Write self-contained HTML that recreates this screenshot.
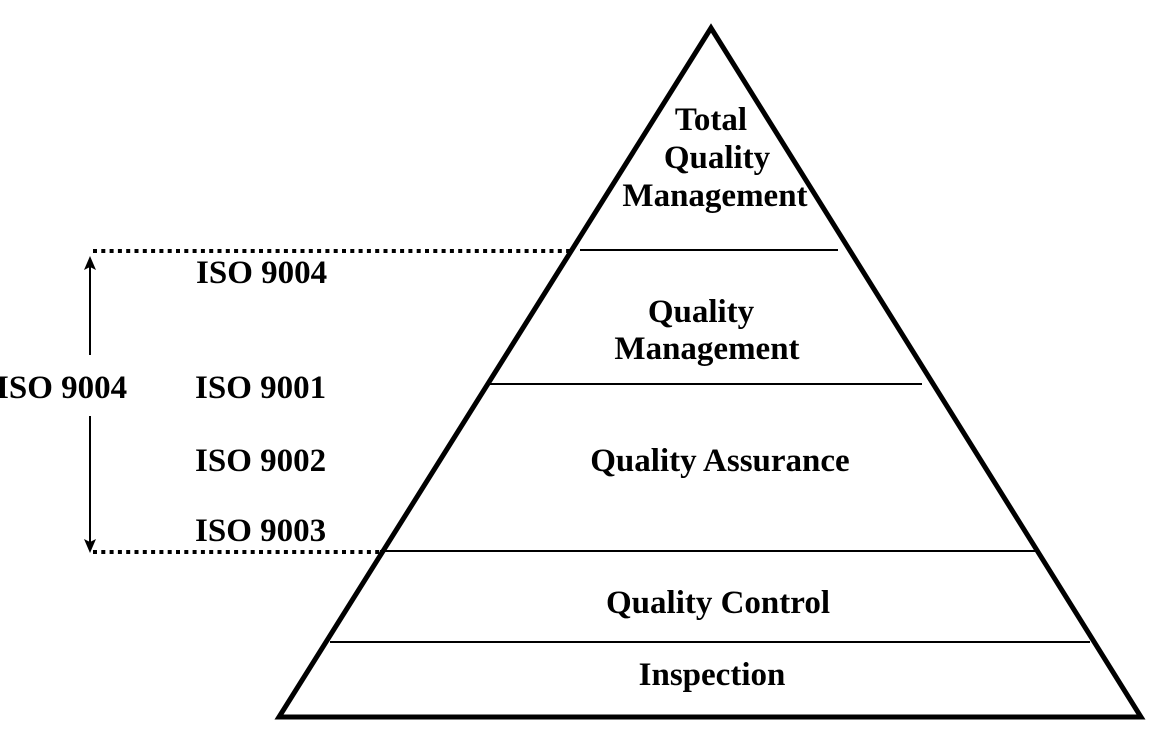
<!DOCTYPE html>
<html><head><meta charset="utf-8"><style>
html,body{margin:0;padding:0;background:#fff;}
svg{display:block;}
text{font-family:"Liberation Serif",serif;font-weight:bold;font-size:33px;fill:#000;}
</style></head><body>
<svg width="1162" height="734" viewBox="0 0 1162 734" xmlns="http://www.w3.org/2000/svg">
<polygon points="711,28 279,717 1141,717" fill="none" stroke="#000" stroke-width="5" stroke-linejoin="miter"/>
<line x1="580" y1="250" x2="838" y2="250" stroke="#000" stroke-width="2"/>
<line x1="490" y1="384" x2="922" y2="384" stroke="#000" stroke-width="2"/>
<line x1="380" y1="551" x2="1035" y2="551" stroke="#000" stroke-width="2"/>
<line x1="330" y1="642" x2="1090" y2="642" stroke="#000" stroke-width="2"/>
<line x1="93" y1="251" x2="572" y2="251" stroke="#000" stroke-width="4" stroke-dasharray="4,4.3"/>
<line x1="93" y1="552" x2="380" y2="552" stroke="#000" stroke-width="4" stroke-dasharray="4,4.3"/>
<line x1="90" y1="262" x2="90" y2="355" stroke="#000" stroke-width="2"/>
<polygon points="84,270 90,256 96,270 90,267" fill="#000"/>
<line x1="90" y1="416" x2="90" y2="546" stroke="#000" stroke-width="2"/>
<polygon points="84,539 90,553 96,539 90,542" fill="#000"/>
<g text-anchor="middle">
<text x="711" y="130">Total</text>
<text x="717" y="168">Quality</text>
<text x="715" y="206">Management</text>
<text x="701" y="322">Quality</text>
<text x="707" y="359">Management</text>
<text x="720" y="471">Quality Assurance</text>
<text x="718" y="613">Quality Control</text>
<text x="712" y="685">Inspection</text>
</g>
<text x="196" y="283">ISO 9004</text>
<text x="195" y="398">ISO 9001</text>
<text x="195" y="471">ISO 9002</text>
<text x="195" y="541">ISO 9003</text>
<text x="-4" y="398">ISO 9004</text>
</svg>
</body></html>
